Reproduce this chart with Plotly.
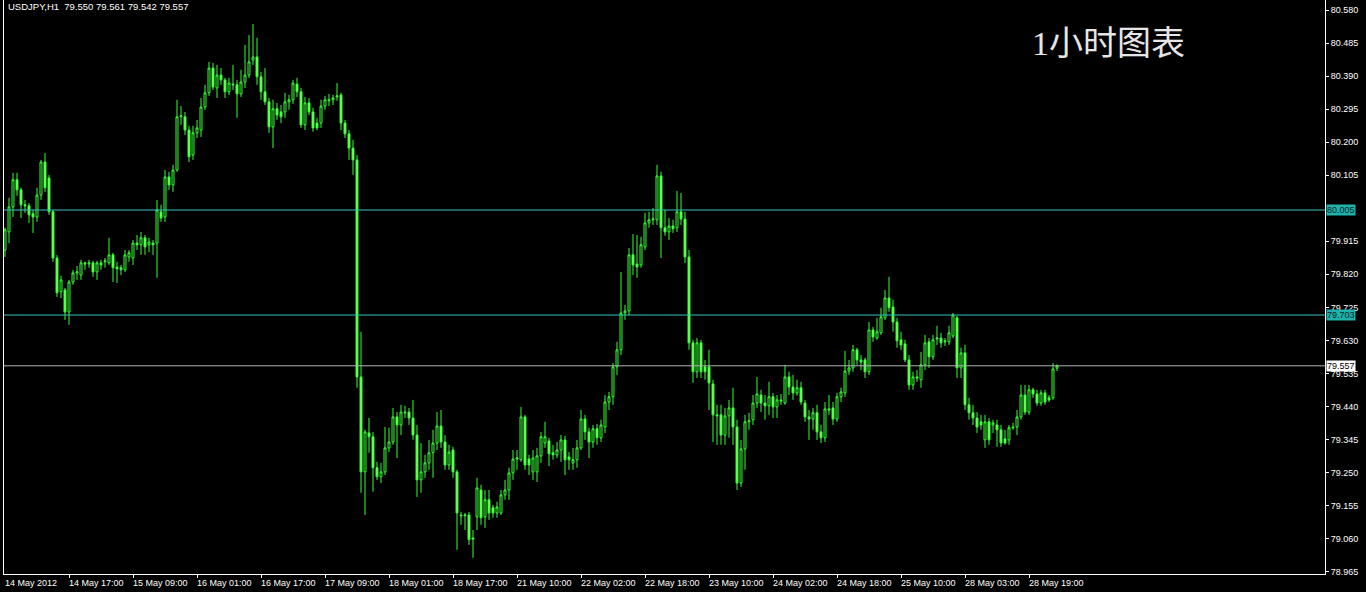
import plotly.graph_objects as go

# ---------------- data (USDJPY, H1) ----------------
bars = list(range(264))

opens = [
    79.890, 79.942, 80.014, 80.092, 80.063, 80.020, 80.017, 79.994, 79.985, 80.048,
    80.143, 80.097, 80.000, 79.867, 79.770, 79.775, 79.712, 79.798, 79.824, 79.818,
    79.853, 79.850, 79.853, 79.827, 79.853, 79.856, 79.853, 79.876, 79.841, 79.839,
    79.833, 79.870, 79.867, 79.910, 79.905, 79.925, 79.905, 79.910, 79.910, 80.000,
    79.985, 80.100, 80.077, 80.120, 80.273, 80.273, 80.235, 80.163, 80.227, 80.235,
    80.301, 80.342, 80.413, 80.356, 80.393, 80.379, 80.345, 80.367, 80.365, 80.339,
    80.373, 80.393, 80.436, 80.445, 80.388, 80.345, 80.316, 80.244, 80.296, 80.287,
    80.287, 80.316, 80.322, 80.367, 80.345, 80.250, 80.313, 80.287, 80.255, 80.255,
    80.304, 80.319, 80.322, 80.330, 80.336, 80.255, 80.224, 80.183, 80.149, 79.525,
    79.252, 79.364, 79.353, 79.264, 79.238, 79.252, 79.321, 79.338, 79.410, 79.387,
    79.424, 79.424, 79.407, 79.358, 79.229, 79.252, 79.278, 79.307, 79.335, 79.384,
    79.338, 79.272, 79.315, 79.252, 79.128, 79.126, 79.128, 79.062, 79.123, 79.200,
    79.123, 79.172, 79.149, 79.134, 79.134, 79.186, 79.200, 79.249, 79.289, 79.287,
    79.410, 79.289, 79.252, 79.252, 79.298, 79.335, 79.341, 79.307, 79.301, 79.315,
    79.344, 79.295, 79.278, 79.287, 79.321, 79.404, 79.367, 79.338, 79.376, 79.350,
    79.381, 79.453, 79.468, 79.554, 79.603, 79.709, 79.715, 79.876, 79.850, 79.847,
    79.899, 79.968, 79.977, 79.977, 80.103, 79.954, 79.942, 79.959, 79.954, 80.000,
    79.979, 79.870, 79.623, 79.540, 79.623, 79.554, 79.554, 79.505, 79.416, 79.416,
    79.358, 79.413, 79.436, 79.381, 79.220, 79.318, 79.396, 79.402, 79.450, 79.473,
    79.450, 79.442, 79.468, 79.439, 79.459, 79.450, 79.525, 79.496, 79.479, 79.494,
    79.450, 79.410, 79.404, 79.422, 79.367, 79.350, 79.433, 79.436, 79.404, 79.468,
    79.479, 79.542, 79.551, 79.603, 79.574, 79.574, 79.540, 79.660, 79.637, 79.652,
    79.695, 79.752, 79.726, 79.683, 79.632, 79.620, 79.574, 79.502, 79.525, 79.517,
    79.560, 79.626, 79.583, 79.634, 79.637, 79.629, 79.626, 79.643, 79.695, 79.551,
    79.594, 79.445, 79.422, 79.407, 79.396, 79.344, 79.396, 79.387, 79.387, 79.373,
    79.347, 79.344, 79.381, 79.381, 79.410, 79.473, 79.424, 79.488, 79.476, 79.450,
    79.479, 79.465, 79.465, 79.550,
]

highs = [
    79.954, 80.040, 80.112, 80.112, 80.069, 80.034, 80.025, 80.005, 80.069, 80.149,
    80.169, 80.106, 80.005, 79.876, 79.816, 79.781, 79.804, 79.833, 79.844, 79.862,
    79.856, 79.862, 79.859, 79.859, 79.862, 79.867, 79.925, 79.882, 79.856, 79.847,
    79.890, 79.890, 79.919, 79.933, 79.942, 79.933, 79.925, 79.919, 80.034, 80.020,
    80.120, 80.115, 80.135, 80.322, 80.304, 80.287, 80.247, 80.247, 80.264, 80.327,
    80.365, 80.431, 80.428, 80.422, 80.413, 80.385, 80.385, 80.422, 80.379, 80.408,
    80.480, 80.508, 80.540, 80.500, 80.402, 80.413, 80.327, 80.322, 80.313, 80.307,
    80.342, 80.336, 80.379, 80.385, 80.356, 80.330, 80.327, 80.299, 80.270, 80.322,
    80.333, 80.339, 80.336, 80.370, 80.342, 80.264, 80.235, 80.207, 80.163, 79.655,
    79.373, 79.407, 79.367, 79.281, 79.278, 79.381, 79.379, 79.436, 79.424, 79.445,
    79.442, 79.436, 79.459, 79.387, 79.335, 79.301, 79.344, 79.373, 79.424, 79.430,
    79.358, 79.330, 79.324, 79.258, 79.137, 79.134, 79.137, 79.085, 79.235, 79.215,
    79.200, 79.200, 79.157, 79.166, 79.200, 79.229, 79.264, 79.315, 79.315, 79.439,
    79.416, 79.301, 79.315, 79.321, 79.367, 79.396, 79.350, 79.330, 79.338, 79.358,
    79.356, 79.309, 79.321, 79.344, 79.430, 79.416, 79.379, 79.387, 79.390, 79.402,
    79.473, 79.482, 79.565, 79.626, 79.827, 79.732, 79.896, 79.936, 79.933, 79.928,
    79.997, 80.000, 80.011, 80.135, 80.115, 80.005, 79.982, 79.977, 80.060, 80.054,
    80.000, 79.890, 79.632, 79.637, 79.632, 79.574, 79.603, 79.517, 79.445, 79.445,
    79.436, 79.459, 79.494, 79.402, 79.344, 79.416, 79.422, 79.473, 79.525, 79.488,
    79.473, 79.511, 79.479, 79.473, 79.476, 79.560, 79.540, 79.531, 79.517, 79.511,
    79.459, 79.430, 79.436, 79.445, 79.387, 79.453, 79.473, 79.453, 79.479, 79.494,
    79.600, 79.574, 79.617, 79.609, 79.588, 79.580, 79.683, 79.669, 79.695, 79.724,
    79.775, 79.813, 79.747, 79.695, 79.655, 79.632, 79.588, 79.540, 79.545, 79.597,
    79.646, 79.637, 79.646, 79.672, 79.652, 79.637, 79.672, 79.709, 79.700, 79.609,
    79.617, 79.465, 79.445, 79.424, 79.416, 79.416, 79.407, 79.402, 79.402, 79.387,
    79.373, 79.387, 79.393, 79.430, 79.502, 79.502, 79.502, 79.494, 79.488, 79.488,
    79.488, 79.473, 79.565, 79.561,
]

lows = [
    79.870, 79.910, 79.985, 80.046, 79.982, 79.997, 79.968, 79.939, 79.971, 80.034,
    80.057, 79.991, 79.856, 79.755, 79.752, 79.689, 79.675, 79.790, 79.804, 79.804,
    79.833, 79.839, 79.813, 79.804, 79.833, 79.839, 79.847, 79.798, 79.795, 79.818,
    79.827, 79.856, 79.847, 79.890, 79.876, 79.876, 79.884, 79.876, 79.810, 79.971,
    79.971, 80.063, 80.057, 80.115, 80.250, 80.221, 80.143, 80.149, 80.212, 80.215,
    80.293, 80.333, 80.350, 80.327, 80.365, 80.327, 80.336, 80.350, 80.270, 80.330,
    80.356, 80.385, 80.422, 80.365, 80.322, 80.307, 80.227, 80.183, 80.264, 80.255,
    80.270, 80.293, 80.310, 80.330, 80.241, 80.235, 80.278, 80.230, 80.235, 80.241,
    80.293, 80.304, 80.307, 80.319, 80.235, 80.212, 80.149, 80.106, 79.494, 79.192,
    79.128, 79.307, 79.195, 79.229, 79.220, 79.243, 79.309, 79.330, 79.292, 79.358,
    79.407, 79.387, 79.344, 79.180, 79.192, 79.235, 79.258, 79.235, 79.315, 79.321,
    79.258, 79.258, 79.235, 79.028, 79.100, 79.085, 79.042, 79.005, 79.085, 79.100,
    79.091, 79.114, 79.120, 79.120, 79.128, 79.172, 79.172, 79.229, 79.258, 79.281,
    79.258, 79.243, 79.229, 79.223, 79.278, 79.321, 79.269, 79.287, 79.292, 79.281,
    79.243, 79.258, 79.258, 79.264, 79.315, 79.344, 79.292, 79.321, 79.330, 79.338,
    79.364, 79.430, 79.445, 79.531, 79.588, 79.689, 79.703, 79.818, 79.810, 79.839,
    79.890, 79.954, 79.962, 79.962, 79.867, 79.931, 79.919, 79.939, 79.942, 79.962,
    79.853, 79.603, 79.508, 79.522, 79.522, 79.517, 79.430, 79.338, 79.330, 79.330,
    79.330, 79.350, 79.330, 79.200, 79.209, 79.258, 79.373, 79.387, 79.436, 79.424,
    79.402, 79.416, 79.407, 79.407, 79.445, 79.445, 79.473, 79.459, 79.471, 79.445,
    79.396, 79.344, 79.373, 79.344, 79.335, 79.338, 79.416, 79.387, 79.396, 79.453,
    79.468, 79.531, 79.540, 79.560, 79.545, 79.522, 79.531, 79.626, 79.632, 79.646,
    79.689, 79.712, 79.655, 79.609, 79.603, 79.568, 79.488, 79.488, 79.511, 79.494,
    79.545, 79.551, 79.574, 79.617, 79.609, 79.614, 79.617, 79.637, 79.522, 79.522,
    79.430, 79.402, 79.387, 79.364, 79.373, 79.321, 79.330, 79.364, 79.324, 79.324,
    79.330, 79.330, 79.373, 79.358, 79.402, 79.416, 79.416, 79.465, 79.442, 79.442,
    79.445, 79.453, 79.459, 79.542,
]

closes = [
    79.948, 80.014, 80.092, 80.063, 80.020, 80.017, 79.991, 79.985, 80.048, 80.143,
    80.069, 80.000, 79.867, 79.767, 79.804, 79.712, 79.798, 79.824, 79.827, 79.853,
    79.850, 79.853, 79.827, 79.853, 79.847, 79.859, 79.876, 79.839, 79.836, 79.833,
    79.876, 79.882, 79.910, 79.905, 79.925, 79.899, 79.913, 79.905, 80.005, 79.982,
    80.100, 80.077, 80.120, 80.273, 80.276, 80.235, 80.158, 80.227, 80.241, 80.301,
    80.342, 80.413, 80.359, 80.393, 80.379, 80.345, 80.370, 80.365, 80.339, 80.373,
    80.393, 80.431, 80.445, 80.388, 80.345, 80.316, 80.244, 80.296, 80.278, 80.273,
    80.316, 80.322, 80.370, 80.345, 80.250, 80.313, 80.287, 80.241, 80.241, 80.304,
    80.322, 80.322, 80.327, 80.333, 80.255, 80.224, 80.183, 80.149, 79.525, 79.252,
    79.367, 79.353, 79.264, 79.238, 79.252, 79.321, 79.338, 79.410, 79.387, 79.424,
    79.422, 79.407, 79.358, 79.229, 79.252, 79.278, 79.307, 79.335, 79.384, 79.338,
    79.272, 79.309, 79.252, 79.134, 79.126, 79.128, 79.057, 79.059, 79.206, 79.120,
    79.172, 79.134, 79.134, 79.151, 79.186, 79.200, 79.249, 79.289, 79.292, 79.410,
    79.272, 79.272, 79.292, 79.298, 79.353, 79.353, 79.304, 79.301, 79.315, 79.344,
    79.287, 79.287, 79.287, 79.321, 79.404, 79.367, 79.338, 79.376, 79.350, 79.387,
    79.453, 79.468, 79.554, 79.603, 79.709, 79.715, 79.876, 79.847, 79.841, 79.905,
    79.968, 79.977, 79.979, 80.103, 79.954, 79.942, 79.959, 79.951, 80.000, 79.979,
    79.870, 79.623, 79.540, 79.623, 79.540, 79.540, 79.508, 79.416, 79.413, 79.358,
    79.413, 79.436, 79.381, 79.220, 79.318, 79.396, 79.399, 79.450, 79.476, 79.450,
    79.442, 79.468, 79.439, 79.459, 79.456, 79.525, 79.496, 79.479, 79.494, 79.453,
    79.410, 79.404, 79.422, 79.367, 79.350, 79.433, 79.430, 79.404, 79.468, 79.482,
    79.542, 79.551, 79.603, 79.574, 79.568, 79.540, 79.660, 79.640, 79.655, 79.698,
    79.752, 79.724, 79.683, 79.629, 79.617, 79.574, 79.502, 79.525, 79.522, 79.560,
    79.623, 79.583, 79.632, 79.637, 79.623, 79.626, 79.652, 79.703, 79.551, 79.594,
    79.445, 79.422, 79.407, 79.381, 79.387, 79.396, 79.344, 79.393, 79.373, 79.335,
    79.335, 79.379, 79.379, 79.410, 79.473, 79.424, 79.488, 79.476, 79.450, 79.479,
    79.453, 79.459, 79.548, 79.557,
]

time_tick_bars = [0, 16, 32, 48, 64, 80, 96, 112, 128, 144, 160, 176, 192, 208, 224, 240, 256]
time_tick_labels = [
    "14 May 2012", "14 May 17:00", "15 May 09:00", "16 May 01:00", "16 May 17:00",
    "17 May 09:00", "18 May 01:00", "18 May 17:00", "21 May 10:00", "22 May 02:00",
    "22 May 18:00", "23 May 10:00", "24 May 02:00", "24 May 18:00", "25 May 10:00",
    "28 May 03:00", "28 May 19:00",
]

price_ticks = [
    78.965, 79.060, 79.155, 79.250, 79.345, 79.440, 79.535, 79.630, 79.725,
    79.820, 79.915, 80.105, 80.200, 80.295, 80.390, 80.485, 80.580,
]

level_lines = [80.005, 79.703]
bid_price = 79.557
header_text = "USDJPY,H1  79.550 79.561 79.542 79.557"
big_title = "1小时图表"

# ---------------- figure ----------------
GREEN = "#33FF33"
BEAR_FILL = "#8CFF70"
TEAL = "#20B2AA"
TEAL_LINE = "#34C6BE"
FONT = "Liberation Sans, Arial, sans-serif"

fig = go.Figure()
fig.add_trace(go.Candlestick(
    x=bars, open=opens, high=highs, low=lows, close=closes,
    increasing=dict(line=dict(color=GREEN, width=1), fillcolor="#000000"),
    decreasing=dict(line=dict(color=GREEN, width=1), fillcolor=BEAR_FILL),
    whiskerwidth=0, hoverinfo="skip", showlegend=False,
))

shapes = []
for lv in level_lines:
    shapes.append(dict(type="line", xref="paper", x0=0, x1=1, yref="y", y0=lv, y1=lv,
                       line=dict(color=TEAL_LINE, width=1), layer="above"))
shapes.append(dict(type="line", xref="paper", x0=0, x1=1, yref="y", y0=bid_price, y1=bid_price,
                   line=dict(color="#B4B4B4", width=1), layer="above"))

annotations = []
lab_font = dict(family=FONT, size=9, color="#FFFFFF")
for b, t in zip(time_tick_bars, time_tick_labels):
    annotations.append(dict(x=b, xref="x", y=0, yref="paper", text=t, showarrow=False,
                            xanchor="left", yanchor="top", yshift=-2, xshift=-2,
                            font=lab_font))
for lv in level_lines:
    annotations.append(dict(x=1, xref="paper", y=lv, yref="y", text=f"{lv:.3f}",
                            showarrow=False, xanchor="left", yanchor="middle", xshift=1,
                            bgcolor=TEAL, borderpad=0,
                            font=dict(family=FONT, size=9, color="#062424")))
annotations.append(dict(x=1, xref="paper", y=bid_price, yref="y", text=f"{bid_price:.3f}",
                        showarrow=False, xanchor="left", yanchor="middle", xshift=1,
                        bgcolor="#FFFFFF", borderpad=0,
                        font=dict(family=FONT, size=9, color="#000000")))
annotations.append(dict(x=0, xref="paper", y=1, yref="paper", text=header_text,
                        showarrow=False, xanchor="left", yanchor="top", xshift=2, yshift=1,
                        font=dict(family=FONT, size=9.5, color="#FFFFFF")))
annotations.append(dict(x=0.7767, xref="paper", y=0.925, yref="paper", text=big_title,
                        showarrow=False, xanchor="left", yanchor="middle",
                        font=dict(family="Liberation Serif, Noto Sans CJK SC, serif",
                                  size=34, color="#E6E6E6")))

fig.update_layout(
    width=1366, height=592,
    margin=dict(l=4, r=41, t=0, b=18, pad=0),
    paper_bgcolor="#000000", plot_bgcolor="#000000",
    shapes=shapes, annotations=annotations,
    showlegend=False, hovermode=False,
    xaxis=dict(
        range=[-0.25, 330], rangeslider=dict(visible=False),
        showgrid=False, zeroline=False,
        showline=True, linecolor="#FFFFFF", linewidth=1, mirror=False,
        tickmode="array", tickvals=time_tick_bars[1:], ticks="outside", ticklen=3,
        tickcolor="#FFFFFF", showticklabels=False,
    ),
    yaxis=dict(
        range=[78.9584, 80.6088], side="right",
        showgrid=False, zeroline=False,
        showline=True, linecolor="#FFFFFF", linewidth=1, mirror=True,
        tickmode="array", tickvals=price_ticks, tickformat=".3f",
        ticks="outside", ticklen=3, tickcolor="#FFFFFF",
        tickfont=dict(family=FONT, size=9, color="#FFFFFF"),
    ),
)

fig.write_html(
    "out.html",
    config={"displayModeBar": False, "staticPlot": True},
    post_script="document.body.style.margin='0';document.body.style.background='#000';"
                "document.body.style.overflow='hidden';",
)
